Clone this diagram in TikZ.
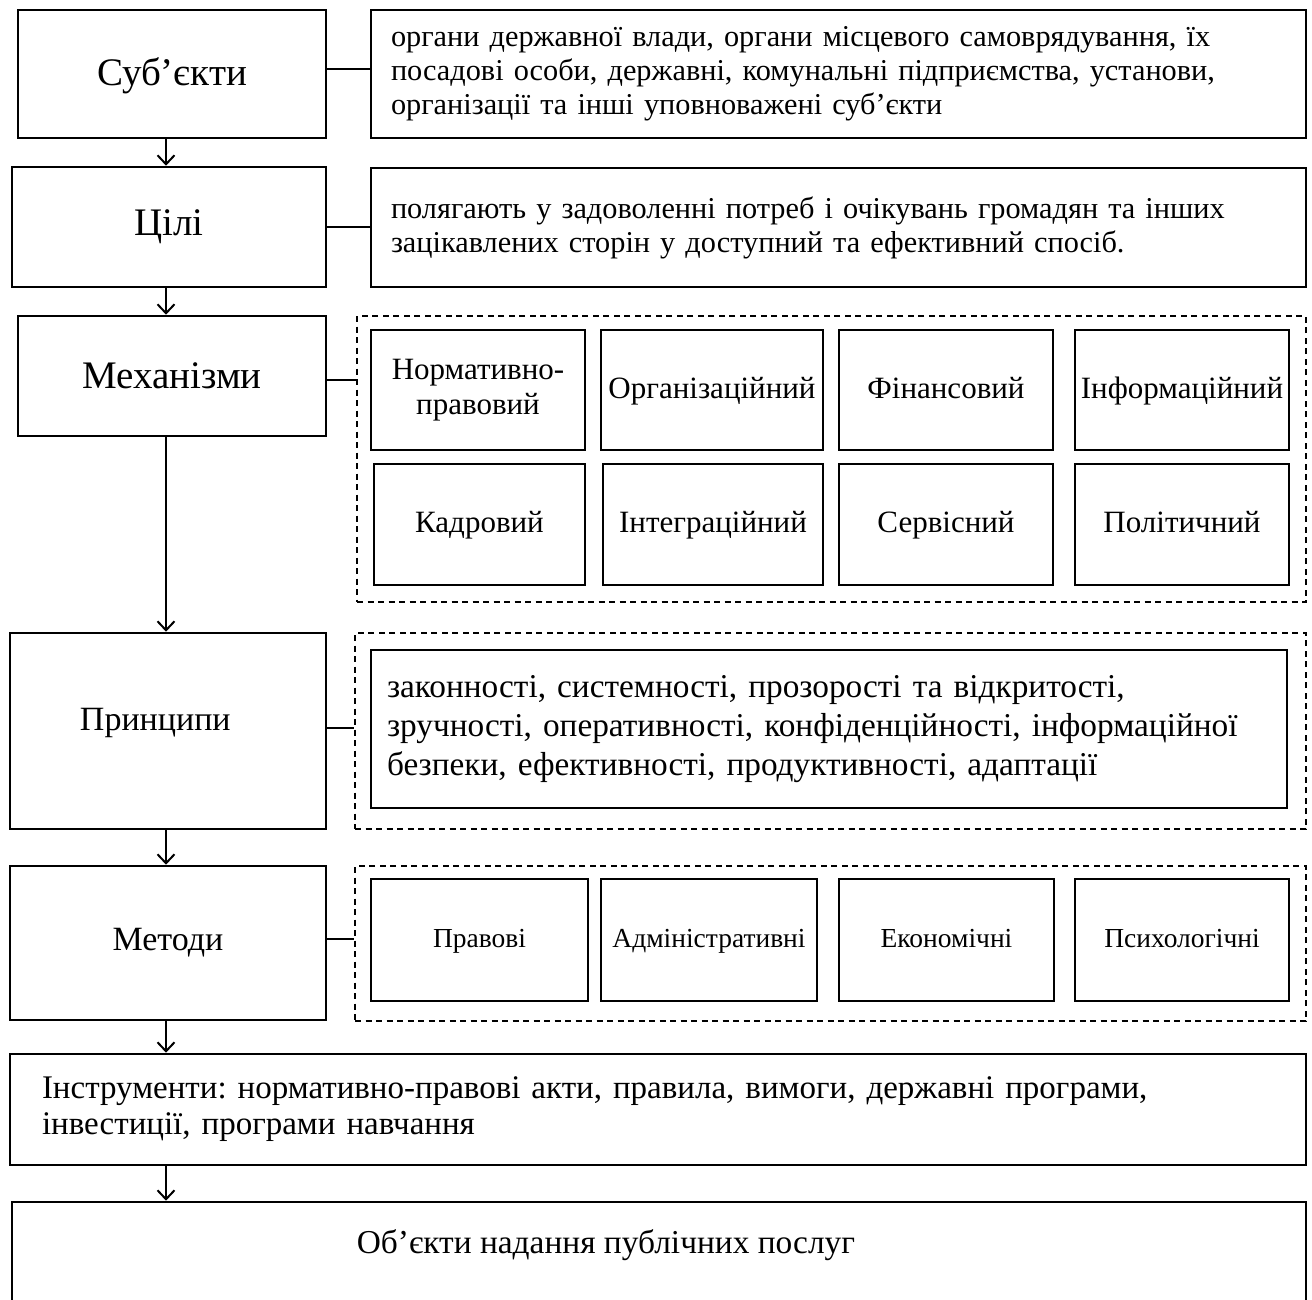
\documentclass[tikz,border=0pt]{standalone}
\usepackage{fontspec}
\setmainfont{Liberation Serif}
\usepackage{tikz}
\usetikzlibrary{arrows.meta,positioning,calc}
\frenchspacing
\tikzset{box/.style={draw=black,line width=2.6pt,inner sep=0pt,align=center}}
\tikzset{grp/.style={draw=black,line width=2.4pt,dash pattern=on 6pt off 4.5pt,inner sep=0pt}}
\tikzset{txtbox/.style={box,align=left,inner xsep=20pt}}
\tikzset{big/.style={font=\fontsize{39}{44}\selectfont}}
\tikzset{mid/.style={font=\fontsize{34}{39}\selectfont}}
\tikzset{body/.style={font=\fontsize{30.3}{34}\selectfont}}
\tikzset{wide/.style={font=\fontsize{33.3}{39}\selectfont}}
\tikzset{small/.style={font=\fontsize{31}{35}\selectfont,text height=23pt,text depth=7pt}}
\tikzset{tiny/.style={font=\fontsize{27.5}{31}\selectfont,text height=20pt,text depth=6pt}}

\begin{document}
\begin{tikzpicture}[x=1pt, y=-1pt, ->, >={Straight Barb[length=9pt,width=17pt]}, line width=2pt]
        \clip (0,0) rectangle (1312,1299);
        \useasboundingbox (0,0) rectangle (1312,1299);
        \coordinate (axis) at (166,0);
        % left column
        \node[box,big,minimum width=308,minimum height=128,text height=26pt,text depth=3pt] (subj) at (172,74) {Суб’єкти};
        \node[box,big,minimum width=314,minimum height=120] (goal) at (169,227) {Цілі};
        \node[box,big,minimum width=308,minimum height=120] (mech) at (172,376) {Механізми};
        \node[box,mid,minimum width=316,minimum height=196,text depth=24pt,inner xsep=0pt,text width=300,align=left] (princ) at (168,731) {\hspace*{62pt}Принципи};
        \node[box,mid,minimum width=316,minimum height=154] (meth) at (168,943) {Методи};
        % right column
        \node[txtbox,body,text width=895,minimum height=128] (subjtxt) at (838.5,74)
            {органи державної влади, органи місцевого самоврядування, їх\\
             посадові особи, державні, комунальні підприємства, установи,\\
             організації та інші уповноважені суб'єкти};
        \node[txtbox,body,text width=895,minimum height=119] (goaltxt) at (838.5,227.5)
            {полягають у задоволенні потреб і очікувань громадян та інших\\
             зацікавлених сторін у доступний та ефективний спосіб.};
        \node[grp,minimum width=949,minimum height=286] (mechgrp) at (831.5,459) {};
        \node[box,font=\fontsize{31}{35}\selectfont,minimum width=214,minimum height=120] (m1) at (478,390) {Нормативно-\\правовий};
        \node[box,small,minimum width=222,minimum height=120] (m2) at (712,390) {Організаційний};
        \node[box,small,minimum width=214,minimum height=120] (m3) at (946,390) {Фінансовий};
        \node[box,small,minimum width=214,minimum height=120] (m4) at (1182,390) {Інформаційний};
        \node[box,small,minimum width=211,minimum height=121] (m5) at (479.5,524.5) {Кадровий};
        \node[box,small,minimum width=220,minimum height=121] (m6) at (713,524.5) {Інтеграційний};
        \node[box,small,minimum width=214,minimum height=121] (m7) at (946,524.5) {Сервісний};
        \node[box,small,minimum width=214,minimum height=121] (m8) at (1182,524.5) {Політичний};
        \node[grp,minimum width=951,minimum height=196] (princgrp) at (830.5,731) {};
        \node[txtbox,wide,inner xsep=16pt,text width=884,minimum height=158] (princtxt) at (829,729)
            {законності, системності, прозорості та відкритості,\\
             зручності, оперативності, конфіденційності, інформаційної\\
             безпеки, ефективності, продуктивності, адаптації};
        \node[grp,minimum width=951,minimum height=155] (methgrp) at (830.5,943.5) {};
        \node[box,tiny,minimum width=217,minimum height=122] (r1) at (479.5,940) {Правові};
        \node[box,tiny,minimum width=216,minimum height=122] (r2) at (709,940) {Адміністративні};
        \node[box,tiny,minimum width=215,minimum height=122] (r3) at (946.5,940) {Економічні};
        \node[box,tiny,minimum width=214,minimum height=122] (r4) at (1182,940) {Психологічні};
        % bottom rows
        \node[txtbox,font=\fontsize{33}{36}\selectfont,inner xsep=32pt,text width=1232,minimum height=111] (tools) at (658,1109.5)
            {Інструменти: нормативно-правові акти, правила, вимоги, державні програми,\\
             інвестиції, програми навчання};
        \node[box,minimum width=1294,minimum height=120] (obj) at (659,1262) {};
        \node[font=\fontsize{33.4}{38}\selectfont] (objtxt) at (606,1245) {Об’єкти надання публічних послуг};
        % arrows
        \draw (subj.south -| axis) -- (goal.north -| axis);
        \draw (goal.south -| axis) -- (mech.north -| axis);
        \draw (mech.south -| axis) -- (princ.north -| axis);
        \draw (princ.south -| axis) -- (meth.north -| axis);
        \draw (meth.south -| axis) -- (tools.north -| axis);
        \draw (tools.south -| axis) -- (obj.north -| axis);
        % links
        \coordinate (sj) at ($(subj.east)+(0,-5)$);
        \coordinate (mj) at ($(mech.east)+(0,4)$);
        \coordinate (pj) at ($(princ.east)+(0,-3)$);
        \coordinate (rj) at ($(meth.east)+(0,-4)$);
        \draw[-] (sj) -- (sj -| subjtxt.west);
        \draw[-] (goal.east) -- (goal.east -| goaltxt.west);
        \draw[-] (mj) -- (mj -| mechgrp.west);
        \draw[-] (pj) -- (pj -| princgrp.west);
        \draw[-] (rj) -- (rj -| methgrp.west);
\end{tikzpicture}
\end{document}
